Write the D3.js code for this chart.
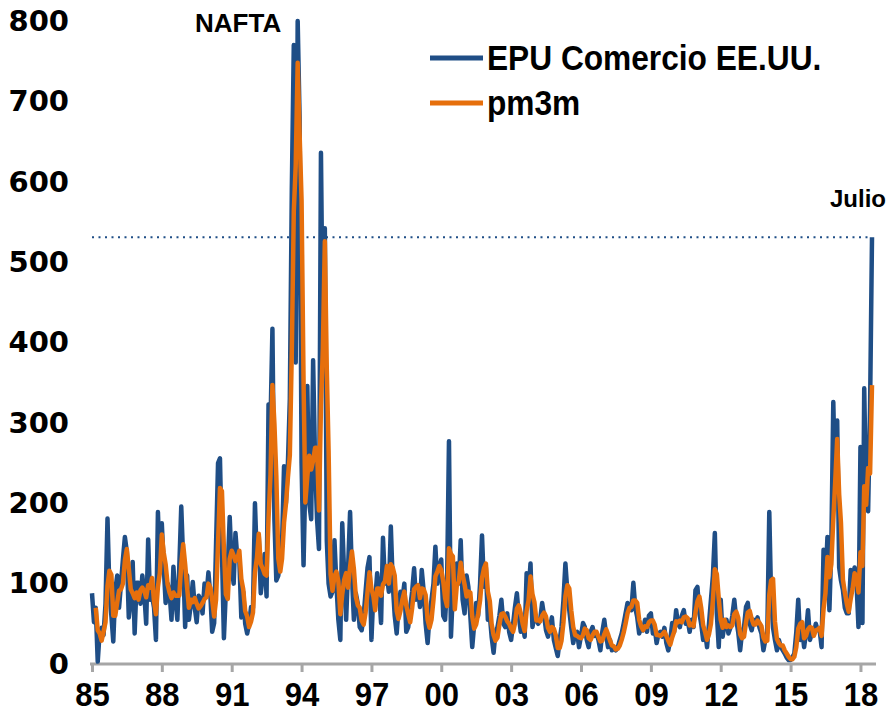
<!DOCTYPE html>
<html lang="es">
<head>
<meta charset="utf-8">
<title>EPU Comercio EE.UU.</title>
<script src="https://d3js.org/d3.v7.min.js"></script>
<style>
  body { margin: 0; background: #fff; }
  svg text { font-family: "Liberation Sans", Arial, sans-serif; font-weight: bold; fill: #000; }
  .ylab { font-family: "DejaVu Sans", "Liberation Sans", sans-serif; }
</style>
</head>
<body>
<script>

var w = 887;
var h = 715;

// monthly series, Jan 1985 .. Jul 2018
var startYear = 1985;

var epu = [
  88, 52, 70, 3, 40, 45, 36, 75, 181, 92, 60, 28,
  92, 110, 70, 100, 130, 158, 140, 58, 80, 127, 38, 101,
  101, 75, 110, 88, 50, 155, 80, 85, 70, 30, 189, 120,
  175, 120, 76, 100, 90, 55, 121, 80, 55, 120, 196, 130,
  46, 110, 55, 75, 102, 70, 52, 85, 80, 63, 100, 85,
  114, 85, 40, 51, 150, 250, 256, 140, 32, 90, 120, 183,
  121, 100, 163, 130, 130, 58, 90, 50, 38, 50, 71, 70,
  200, 126, 159, 88, 110, 137, 84, 323, 300, 417, 180, 104,
  110, 132, 150, 246, 200, 250, 330, 590, 770, 375, 800, 680,
  250, 123, 230, 346, 200, 180, 378, 250, 180, 143, 636, 400,
  542, 153, 100, 84, 90, 154, 100, 55, 30, 175, 110, 55,
  120, 189, 110, 55, 88, 75, 46, 42, 60, 90, 120, 133,
  30, 90, 80, 113, 90, 51, 157, 100, 110, 90, 171, 100,
  60, 38, 70, 90, 80, 100, 40, 46, 70, 90, 119, 80,
  95, 71, 117, 90, 50, 26, 60, 80, 100, 146, 100, 120,
  130, 60, 55, 100, 277, 34, 90, 80, 125, 100, 154, 80,
  63, 110, 96, 60, 21, 50, 76, 60, 100, 160, 96, 120,
  55, 60, 34, 14, 40, 46, 60, 80, 50, 46, 63, 40,
  30, 50, 70, 88, 60, 40, 50, 34, 113, 90, 125, 46,
  60, 55, 50, 55, 76, 60, 42, 34, 45, 58, 30, 20,
  10, 30, 46, 80, 125, 90, 67, 45, 26, 38, 40, 21,
  35, 51, 46, 30, 21, 40, 46, 35, 38, 30, 17, 40,
  55, 35, 21, 30, 17, 20, 17, 21, 30, 38, 50, 63,
  76, 70, 67, 101, 70, 58, 38, 45, 42, 55, 40, 60,
  63, 38, 45, 26, 38, 40, 34, 45, 26, 17, 30, 51,
  40, 67, 50, 46, 60, 67, 50, 55, 40, 55, 46, 92,
  96, 63, 50, 30, 40, 21, 50, 80, 110, 163, 63, 21,
  80, 34, 50, 55, 38, 45, 60, 80, 55, 40, 17, 40,
  46, 71, 76, 50, 42, 55, 50, 58, 45, 38, 17, 30,
  40, 189, 84, 45, 30, 17, 30, 21, 17, 13, 8, 5,
  5, 9, 13, 40, 80, 30, 45, 21, 40, 67, 30, 38,
  38, 50, 42, 42, 21, 142, 100, 158, 67, 146, 326, 210,
  303, 120, 104, 92, 70, 63, 63, 117, 101, 120, 100, 46,
  270, 51, 343, 200, 190, 320, 531
];

var pm3m = [
  null, null, 70, 42, 38, 29, 40, 52, 97, 116, 111, 60,
  60, 77, 91, 93, 100, 129, 143, 119, 93, 88, 82, 89,
  80, 92, 95, 91, 83, 98, 95, 107, 78, 62, 96, 113,
  161, 138, 124, 99, 89, 82, 89, 85, 85, 85, 124, 149,
  124, 95, 70, 80, 77, 82, 75, 69, 72, 76, 81, 83,
  100, 95, 80, 59, 80, 150, 219, 215, 143, 87, 81, 131,
  141, 135, 128, 131, 141, 106, 93, 66, 59, 46, 53, 64,
  114, 132, 162, 124, 119, 112, 110, 181, 236, 347, 299, 234,
  131, 115, 131, 176, 199, 232, 260, 390, 563, 620, 748, 660,
  577, 351, 201, 233, 259, 242, 253, 269, 269, 191, 320, 393,
  526, 365, 265, 112, 91, 109, 115, 103, 62, 87, 105, 113,
  95, 121, 140, 118, 84, 73, 70, 54, 49, 64, 90, 114,
  94, 84, 67, 94, 94, 85, 99, 103, 122, 100, 124, 120,
  110, 66, 56, 66, 80, 90, 73, 62, 52, 69, 93, 96,
  98, 82, 94, 93, 86, 55, 45, 55, 80, 109, 115, 122,
  117, 103, 82, 72, 144, 137, 134, 68, 98, 102, 126, 111,
  99, 84, 90, 89, 59, 44, 49, 62, 79, 107, 119, 125,
  90, 78, 50, 36, 29, 33, 49, 62, 63, 59, 53, 50,
  44, 40, 50, 69, 73, 63, 50, 41, 66, 79, 109, 87,
  77, 54, 55, 53, 60, 64, 59, 45, 40, 46, 44, 36,
  20, 20, 29, 52, 84, 98, 94, 67, 46, 36, 35, 33,
  32, 36, 44, 42, 32, 30, 36, 40, 40, 34, 28, 29,
  37, 43, 37, 29, 23, 22, 18, 19, 23, 30, 39, 50,
  63, 70, 71, 79, 79, 76, 55, 47, 42, 47, 46, 52,
  54, 54, 49, 36, 36, 35, 37, 40, 35, 29, 24, 33,
  40, 53, 52, 54, 52, 58, 59, 57, 48, 50, 47, 64,
  78, 84, 70, 48, 40, 30, 37, 50, 80, 118, 112, 82,
  55, 45, 55, 46, 48, 46, 48, 62, 65, 58, 37, 32,
  34, 52, 64, 66, 56, 49, 49, 54, 51, 47, 33, 28,
  29, 86, 104, 106, 53, 31, 26, 23, 23, 17, 13, 9,
  6, 6, 9, 21, 44, 50, 52, 32, 35, 43, 46, 45,
  35, 42, 43, 45, 35, 68, 88, 133, 108, 124, 180, 227,
  280, 211, 176, 105, 89, 75, 65, 81, 94, 113, 107, 89,
  139, 122, 221, 198, 244, 237, 347
];

var tickYears = [1985, 1988, 1991, 1994, 1997, 2000, 2003, 2006, 2009, 2012, 2015, 2018];
var yTicks = [0, 100, 200, 300, 400, 500, 600, 700, 800];
var seriesNames = ["EPU Comercio EE.UU.", "pm3m"];
var colors = ["#1F4E86", "#E66F0C"];

var data = epu.map(function(v, i) {
  return { date: new Date(startYear, i, 1), epu: v, pm3m: pm3m[i] };
});
var last = data[data.length - 1];

var x = d3.scaleTime()
    .domain([new Date(startYear, 0, 1), last.date])
    .range([92, 872]);

var y = d3.scaleLinear()
    .domain([0, 800])
    .range([664, 21]);

var svg = d3.select("body")
  .append("svg")
    .attr("width", w)
    .attr("height", h);

svg.append("rect")
    .attr("width", w)
    .attr("height", h)
    .attr("fill", "white");

// y axis, labels only
var yAxis = svg.append("g")
    .attr("transform", "translate(92,0)")
    .call(d3.axisLeft(y).tickValues(yTicks).tickSize(0).tickPadding(23));
yAxis.select(".domain").remove();
yAxis.selectAll("text")
    .attr("class", "ylab")
    .style("font-size", "29px");

// x axis
var xAxis = svg.append("g")
    .attr("transform", "translate(0,664)")
    .call(d3.axisBottom(x)
      .tickValues(tickYears.map(function(yr) { return new Date(yr, 0, 1); }))
      .tickFormat(d3.timeFormat("%y"))
      .tickSize(8)
      .tickSizeOuter(0)
      .tickPadding(11));
xAxis.select(".domain").remove();
xAxis.append("line")
    .attr("x1", 90)
    .attr("x2", 876)
    .attr("stroke", "#A6A6A6")
    .attr("stroke-width", 3);
xAxis.selectAll(".tick line")
    .attr("stroke", "#A6A6A6")
    .attr("stroke-width", 3);
xAxis.selectAll(".tick text")
    .style("font-size", "33px")
    .attr("transform", "scale(0.94,1)");

// dotted reference at last value
svg.append("line")
    .attr("x1", 92)
    .attr("x2", x(last.date))
    .attr("y1", y(last.epu))
    .attr("y2", y(last.epu))
    .attr("stroke", "#1F4E86")
    .attr("stroke-width", 2)
    .attr("stroke-dasharray", "2,4.5");

var epuLine = d3.line()
    .x(d => x(d.date))
    .y(d => y(d.epu));

var pmLine = d3.line()
    .defined(d => d.pm3m != null)
    .x(d => x(d.date))
    .y(d => y(d.pm3m));

svg.append("path")
    .datum(data)
    .attr("d", epuLine)
    .attr("fill", "none")
    .attr("stroke", colors[0])
    .attr("stroke-width", 4.5)
    .attr("stroke-linejoin", "round");

svg.append("path")
    .datum(data)
    .attr("d", pmLine)
    .attr("fill", "none")
    .attr("stroke", colors[1])
    .attr("stroke-width", 4.5)
    .attr("stroke-linejoin", "round");

// legend
var legend = svg.append("g").selectAll("g")
    .data(seriesNames)
    .enter()
    .append("g")
    .attr("transform", (d, i) => "translate(430," + (58 + i * 45) + ")");

legend.append("line")
    .attr("x1", 0)
    .attr("x2", 53)
    .attr("stroke", (d, i) => colors[i])
    .attr("stroke-width", 5);

legend.append("text")
    .attr("transform", "translate(57,12) scale(0.88,1)")
    .style("font-size", "36px")
    .text(d => d);

// annotations
svg.append("text")
    .attr("x", 195)
    .attr("y", 32)
    .style("font-size", "26px")
    .text("NAFTA");

svg.append("text")
    .attr("x", 830)
    .attr("y", 207)
    .style("font-size", "24px")
    .text("Julio");

</script>
</body>
</html>
